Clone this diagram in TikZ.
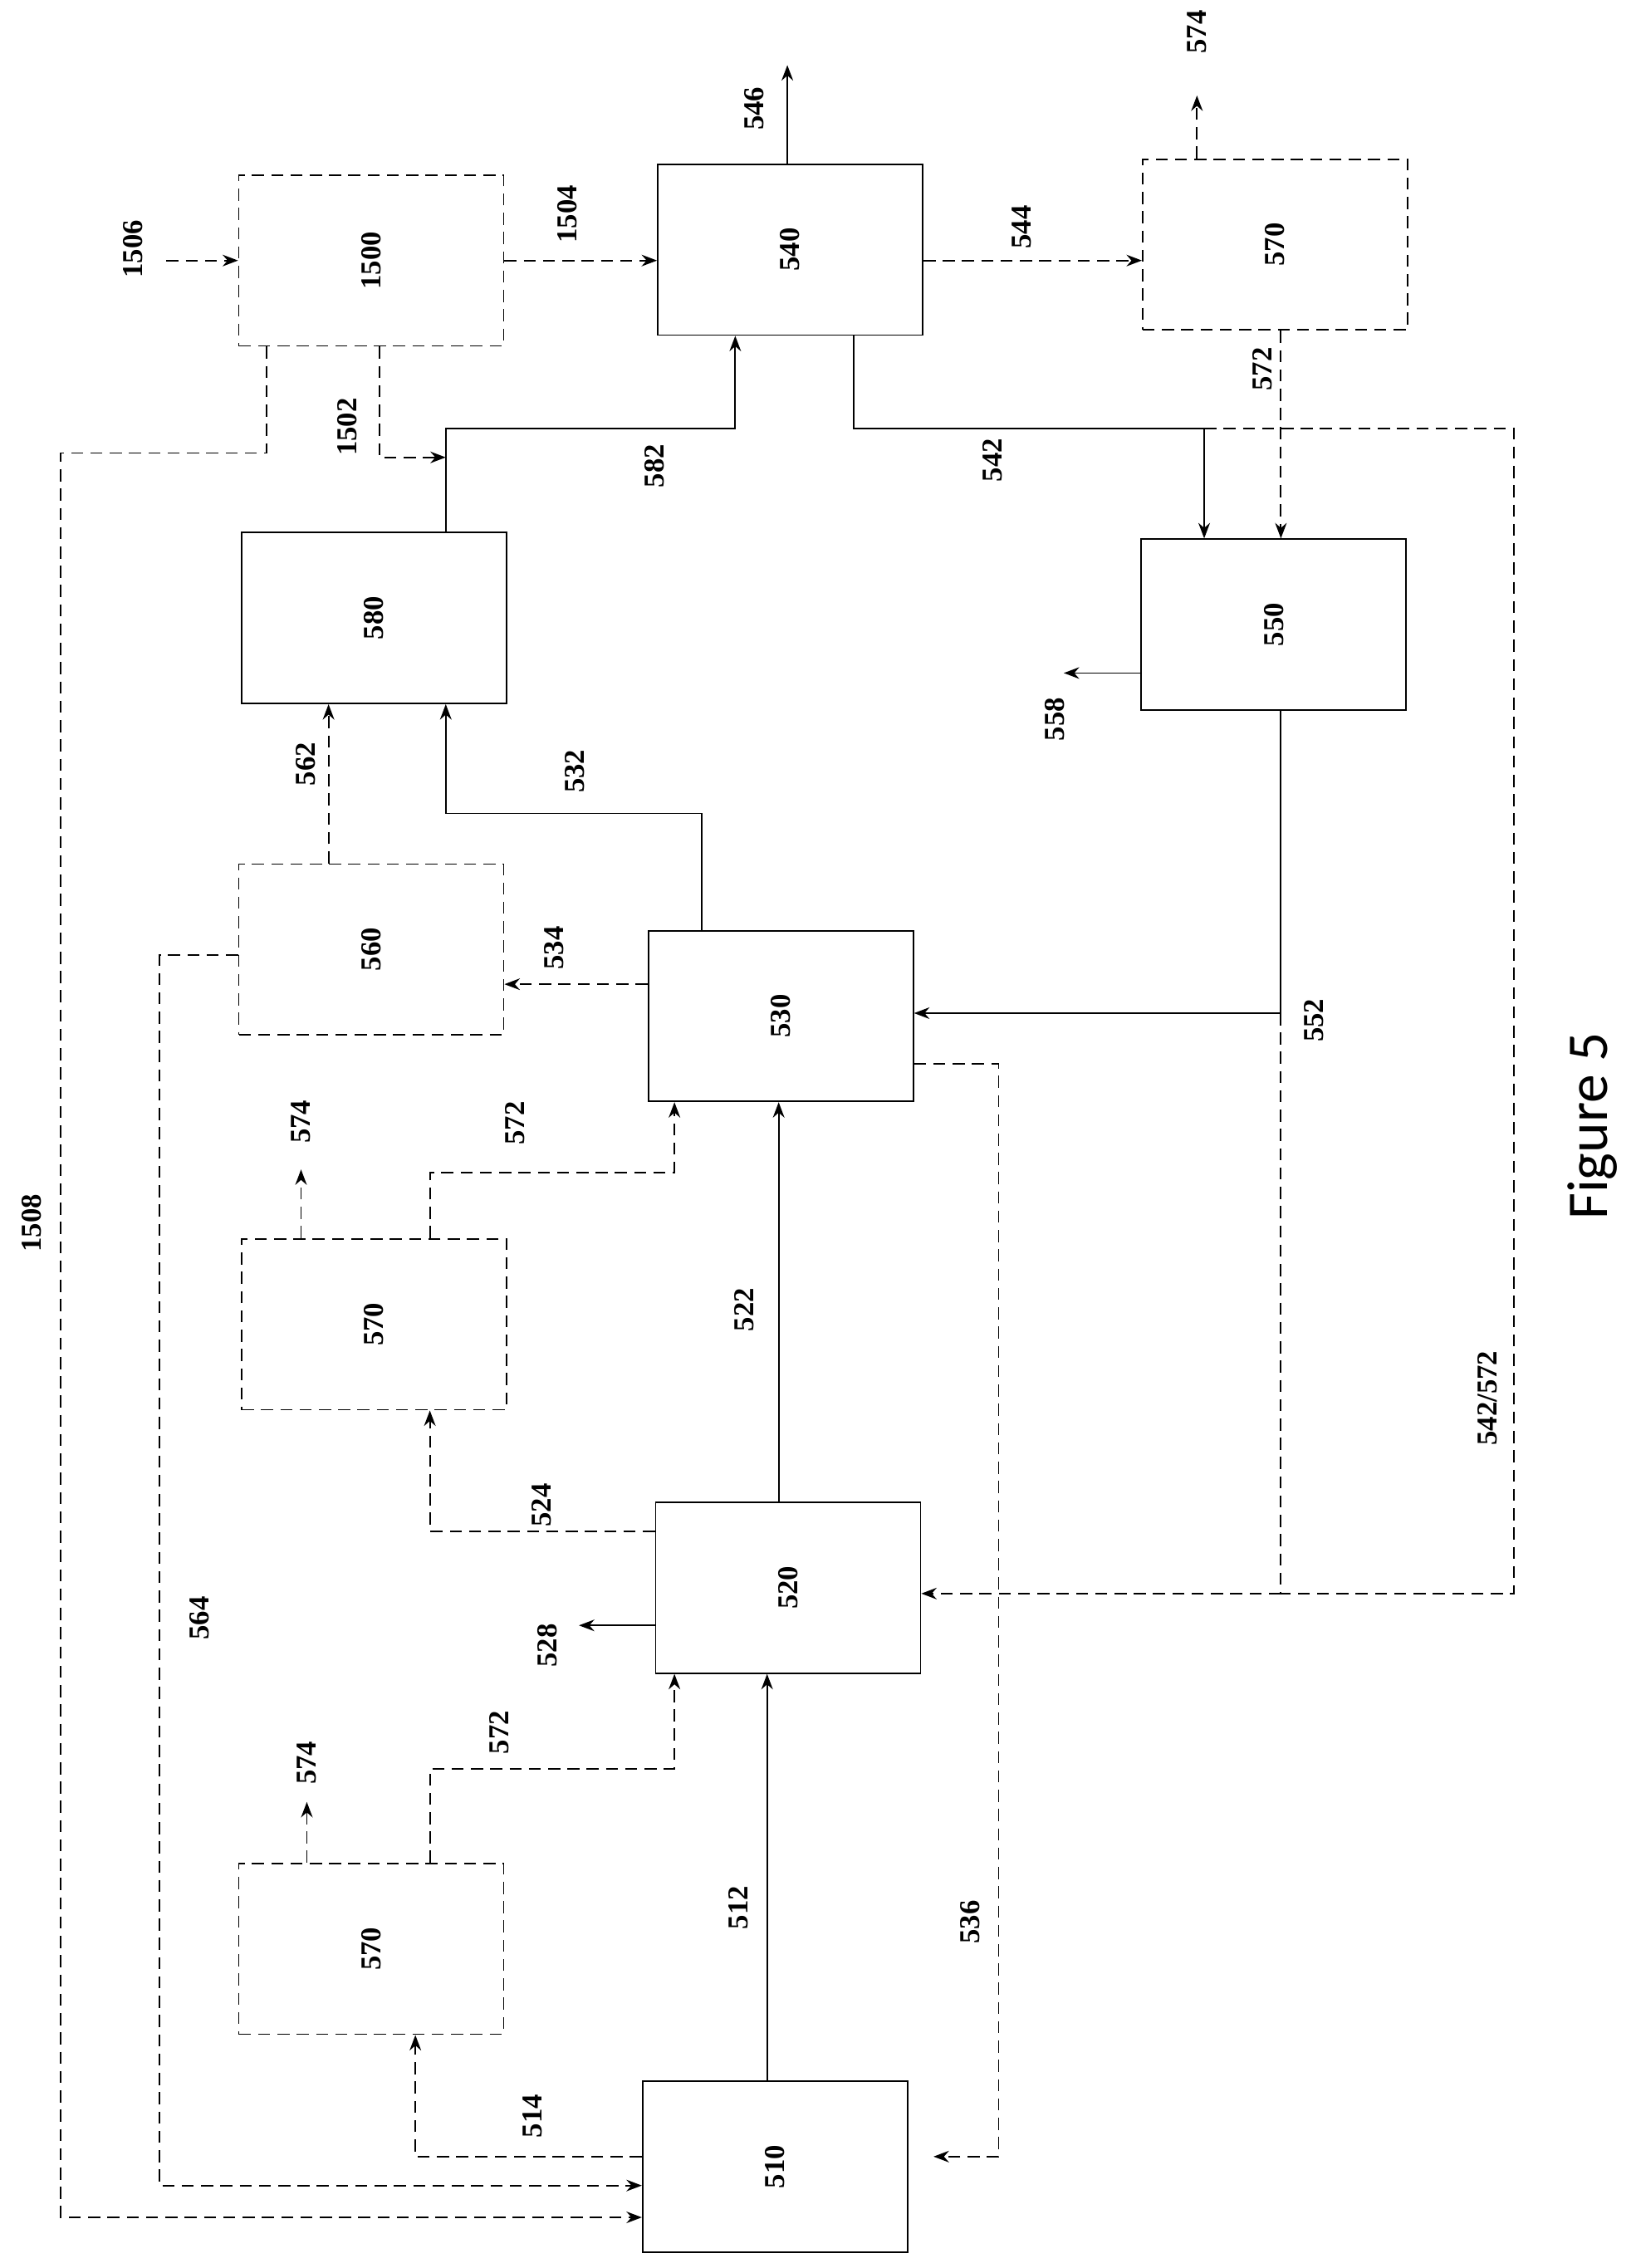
\documentclass[tikz,border=0pt]{standalone}
\usepackage{fontspec}
\setmainfont{Liberation Serif}
\newfontfamily\figfont{Carlito}
\usetikzlibrary{arrows.meta}
\begin{document}
\begin{tikzpicture}[x=0.03cm,y=-0.03cm,line width=0.9pt,
  box/.style={draw,minimum width=5.49cm,minimum height=3.54cm,inner sep=0pt,font=\bfseries\fontsize{17}{19}\selectfont},
  dbox/.style={box,dash pattern=on 0.25cm off 0.15cm},
  ds/.style={dash pattern=on 0.25cm off 0.15cm},
  ar/.style={-{Stealth[length=0.32cm,width=0.24cm]}},
  lab/.style={rotate=90,font=\bfseries\fontsize{17}{19}\selectfont,inner sep=1pt}]
\useasboundingbox (0,0) rectangle (1130,1567);
% boxes
\node[dbox] (b1500) at (256.5,180) {\rotatebox{90}{1500}};
\node[box]  (b540)  at (546,172.5) {\rotatebox{90}{540}};
\node[dbox] (b570a) at (881,169) {\rotatebox{90}{570}};
\node[box]  (b580)  at (258.5,427) {\rotatebox{90}{580}};
\node[box]  (b550)  at (880,431.5) {\rotatebox{90}{550}};
\node[dbox] (b560)  at (256.5,656) {\rotatebox{90}{560}};
\node[box]  (b530)  at (539.5,702) {\rotatebox{90}{530}};
\node[dbox] (b570b) at (258.5,915) {\rotatebox{90}{570}};
\node[box]  (b520)  at (544.5,1097) {\rotatebox{90}{520}};
\node[dbox] (b570c) at (256.5,1346.5) {\rotatebox{90}{570}};
\node[box]  (b510)  at (535.5,1497) {\rotatebox{90}{510}};
% coordinates
\coordinate (i1506) at (115,180);
\coordinate (o546) at (544,45);
\coordinate (o574a) at (827,66);
\coordinate (o574b) at (208,808);
\coordinate (o574c) at (212,1245);
\coordinate (o558) at (735,465);
\coordinate (o528) at (400,1123);
% top row
\draw[ar,ds] (i1506) -- (b1500.west |- i1506);
\draw[ar,ds] (b1500.east |- 0,180) -- (b540.west |- 0,180);
\draw[ar] (b540.north -| o546) -- (o546);
\draw[ar,ds] (b540.east |- 0,180) -- (b570a.west |- 0,180);
\draw[ar,ds] (b570a.north -| o574a) -- (o574a);
\draw[ar,ds] (b1500.south -| 262,0) -- (262,316) -- (308,316);
\draw[ds,ar] (b1500.south -| 184,0) -- (184,313) -- (42,313) -- (42,1532) -- (b510.west |- 0,1532);
\draw[ar] (b580.north -| 308,0) -- (308,296) -- (508,296) -- (b540.south -| 508,0);
\draw (b540.south -| 590,0) -- (590,296) -- (832,296);
\draw[ar] (832,296) -- (b550.north -| 832,0);
\draw[ds] (832,296) -- (1046,296) -- (1046,1101) -- (885,1101);
\draw[ds,ar] (885,1101) -- (b520.east |- 0,1101);
\draw[ar,ds] (b570a.south -| 885,0) -- (b550.north -| 885,0);
\draw[ar] (b550.west |- o558) -- (o558);
\draw (b550.south -| 885,0) -- (885,700);
\draw[ds] (885,700) -- (885,1101);
\draw[ar] (885,700) -- (b530.east |- 0,700);
% middle
\draw[ar,ds] (b560.north -| 227,0) -- (b580.south -| 227,0);
\draw[ar] (b530.north -| 485,0) -- (485,562) -- (308,562) -- (b580.south -| 308,0);
\draw[ar,ds] (b530.west |- 0,680) -- (b560.east |- 0,680);
\draw[ar,ds] (b560.west |- 0,660) -- (110,660) -- (110,1510) -- (b510.west |- 0,1510);
\draw[ar,ds] (b530.east |- 0,735) -- (690,735) -- (690,1490) -- (645,1490);
\draw[ar,ds] (b570b.north -| 297,0) -- (297,810) -- (466,810) -- (b530.south -| 466,0);
\draw[ar,ds] (b570b.north -| o574b) -- (o574b);
\draw[ar,ds] (b520.west |- 0,1058) -- (297,1058) -- (b570b.south -| 297,0);
\draw[ar] (b520.north -| 538,0) -- (b530.south -| 538,0);
\draw[ar] (b520.west |- o528) -- (o528);
\draw[ar] (b510.north -| 530,0) -- (b520.south -| 530,0);
\draw[ar,ds] (b570c.north -| 297,0) -- (297,1222) -- (466,1222) -- (b520.south -| 466,0);
\draw[ar,ds] (b570c.north -| o574c) -- (o574c);
\draw[ar,ds] (b510.west |- 0,1490) -- (287,1490) -- (b570c.south -| 287,0);
% labels
\node[lab] (l1506) at (92,172) {1506};
\node[lab] (l1504) at (392,148) {1504};
\node[lab] (l546) at (521,75) {546};
\node[lab] (l544) at (706,157) {544};
\node[lab] (l574a) at (827,22) {574};
\node[lab] (l1502) at (240,295) {1502};
\node[lab] (l1508) at (22,845) {1508};
\node[lab] (l582) at (452,322) {582};
\node[lab] (l542) at (686,318) {542};
\node[lab] (l572a) at (872,255) {572};
\node[lab] (l558) at (729,497) {558};
\node[lab] (l562) at (211,528) {562};
\node[lab] (l532) at (397,533) {532};
\node[lab] (l534) at (383,655) {534};
\node[lab] (l552) at (908,705) {552};
\node[lab] (l574b) at (208,775) {574};
\node[lab] (l572b) at (356,776) {572};
\node[lab] (l522) at (514,905) {522};
\node[lab] (l542572) at (1028,966) {542/572};
\node[lab] (l524) at (374,1040) {524};
\node[lab] (l564) at (138,1118) {564};
\node[lab] (l528) at (378,1137) {528};
\node[lab] (l572c) at (345,1197) {572};
\node[lab] (l574c) at (212,1218) {574};
\node[lab] (l512) at (510,1318) {512};
\node[lab] (l536) at (670,1328) {536};
\node[lab] (l514) at (368,1462) {514};
\node[rotate=90,font=\figfont\fontsize{34}{36}\selectfont] (fig) at (1100,778) {Figure 5};
\end{tikzpicture}
\end{document}
